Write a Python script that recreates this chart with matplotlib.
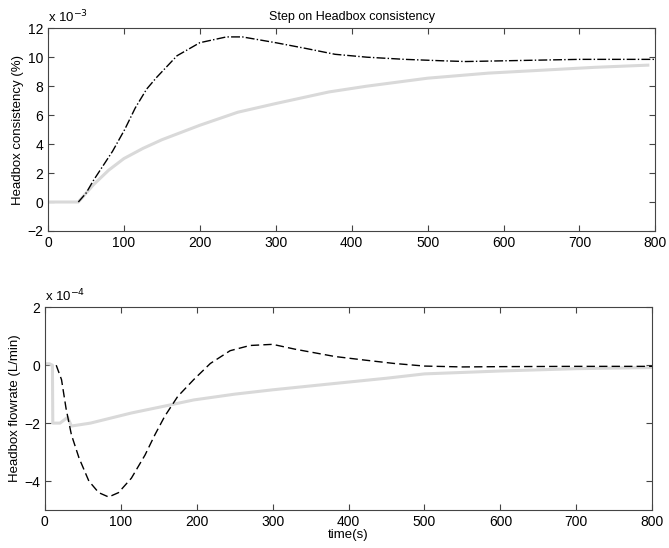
import matplotlib
matplotlib.use('Agg')
import matplotlib.pyplot as plt
import numpy as np

plt.rcParams['font.family'] = ['Liberation Sans', 'DejaVu Sans']
plt.rcParams['xtick.direction'] = 'in'
plt.rcParams['ytick.direction'] = 'in'

# top: headbox consistency (x 1e-3 %)
t_cons_ref = [0, 40, 50, 60, 70, 80, 90, 100, 125, 150, 175, 200, 250, 300, 370,
              420, 500, 580, 650, 720, 790]
cons_ref = [0, 0, 0.6, 1.2, 1.7, 2.2, 2.6, 3.0, 3.7, 4.3, 4.8, 5.3, 6.2, 6.8, 7.6,
            8.0, 8.55, 8.9, 9.1, 9.3, 9.45]
t_cons_out = [40, 50, 60, 70, 85, 101, 115, 130, 143, 170, 200, 235, 256, 300, 340,
              378, 420, 470, 520, 550, 600, 650, 700, 750, 800]
cons_out = [0, 0.6, 1.5, 2.3, 3.5, 5.0, 6.5, 7.8, 8.6, 10.1, 11.0, 11.4, 11.4, 11.0, 10.6,
            10.2, 10.0, 9.85, 9.75, 9.7, 9.75, 9.8, 9.85, 9.85, 9.85]

# bottom: headbox flowrate (x 1e-4 L/min)
t_flow_ref = [0, 6, 10, 10.5, 20, 30, 35, 60, 114, 160, 196, 250, 300, 382, 450, 500,
              600, 700, 800]
flow_ref = [0.05, 0.05, 0.0, -2.0, -2.0, -1.8, -2.1, -2.0, -1.65, -1.4, -1.2, -1.0, -0.85,
            -0.63, -0.45, -0.3, -0.2, -0.12, -0.08]
t_flow_out = [15, 22, 28, 35, 45, 58, 71, 84, 97, 114, 132, 145, 158, 175, 196, 218, 244,
              270, 300, 330, 382, 420, 460, 500, 550, 600, 700, 800]
flow_out = [0, -0.5, -1.5, -2.4, -3.2, -4.0, -4.4, -4.55, -4.4, -3.9, -3.1, -2.4, -1.76,
            -1.08, -0.5, 0.06, 0.5, 0.68, 0.72, 0.55, 0.3, 0.18, 0.06, -0.03, -0.06, -0.05,
            -0.04, -0.04]

fig = plt.figure(figsize=(6.69, 5.48), dpi=100)
ax1 = fig.add_axes([0.0717, 0.5785, 0.908, 0.370])
ax2 = fig.add_axes([0.067, 0.0693, 0.908, 0.370])

gray = '#d9d9d9'
for ax in (ax1, ax2):
    for s in ax.spines.values():
        s.set_color('#444444')
        s.set_linewidth(0.8)
    ax.tick_params(top=True, right=True, labelsize=10, length=4, color='#444444')
    ax.set_xlim(0, 800)
    ax.set_xticks(np.arange(0, 801, 100))

ax1.plot(t_cons_ref, cons_ref, color=gray, lw=2.2)
ax1.plot(t_cons_out, cons_out, color='black', lw=1.0, ls='-.')
ax1.set_ylim(-2, 12)
ax1.set_yticks(np.arange(-2, 13, 2))
ax1.set_ylabel('Headbox consistency (%)', fontsize=9.5, labelpad=2)
ax1.set_title('Step on Headbox consistency', fontsize=9, pad=6)
ax1.text(0.0, 1.015, r'x 10$^{-3}$', transform=ax1.transAxes, fontsize=9.5,
         va='bottom', ha='left')

ax2.plot(t_flow_ref, flow_ref, color=gray, lw=2.2)
ax2.plot(t_flow_out, flow_out, color='black', lw=1.0, ls=(0, (6, 3)))
ax2.set_ylim(-5, 2)
ax2.set_yticks([-4, -2, 0, 2])
ax2.set_ylabel('Headbox flowrate (L/min)', fontsize=9.5, labelpad=2)
ax2.set_xlabel('time(s)', fontsize=9.5, labelpad=0)
ax2.text(0.0, 1.015, r'x 10$^{-4}$', transform=ax2.transAxes, fontsize=9.5,
         va='bottom', ha='left')

fig.savefig('out.png', dpi=100)
